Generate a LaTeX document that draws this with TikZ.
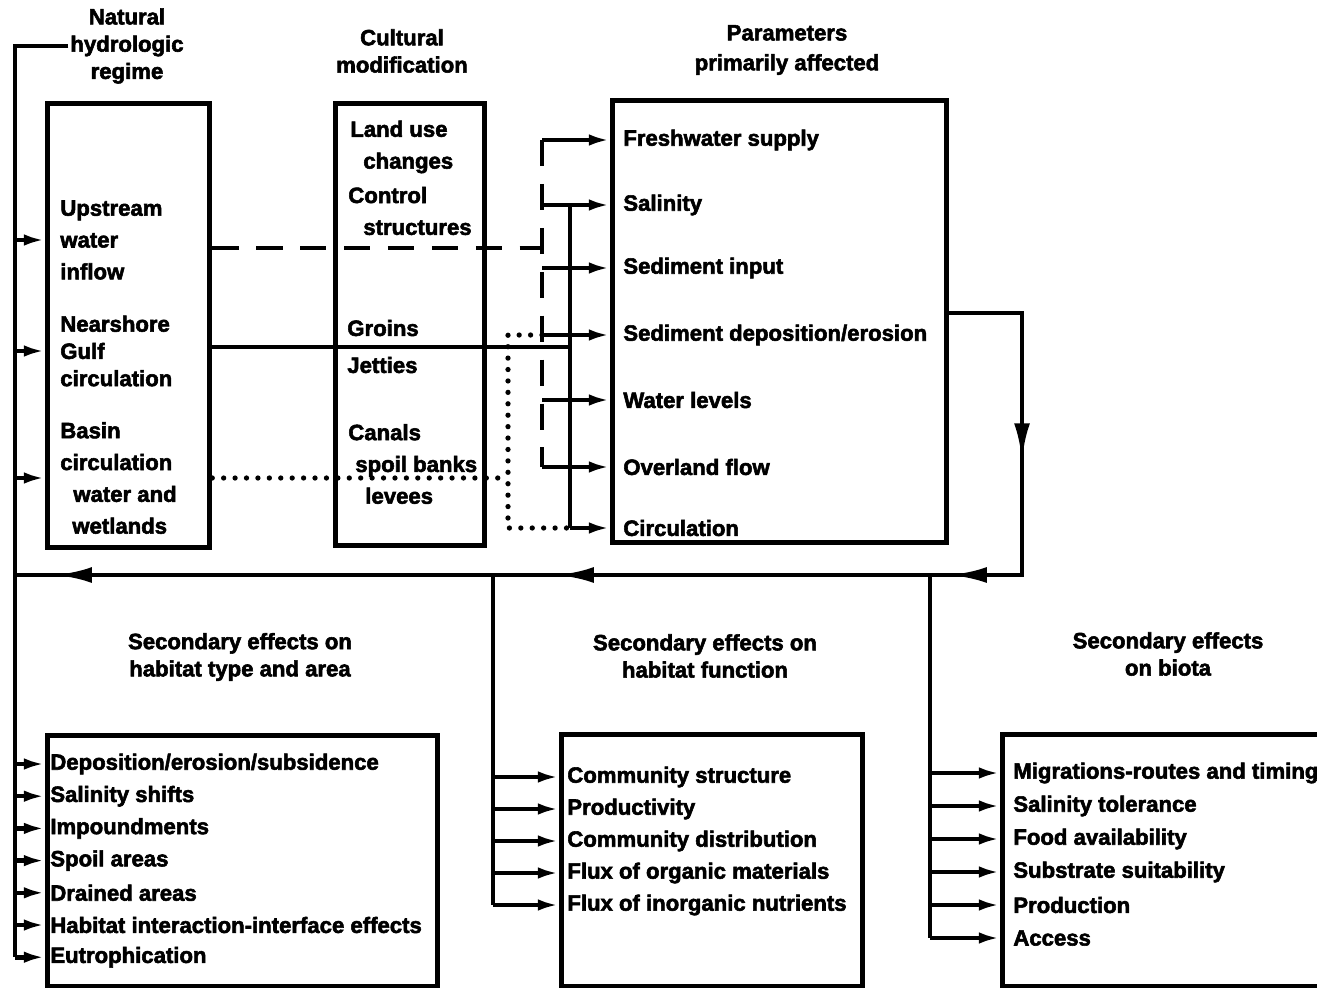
\documentclass[tikz,border=0pt]{standalone}
\usepackage{fontspec}
\setmainfont{Liberation Sans}[BoldFeatures={FakeBold=2.5}]
\usetikzlibrary{arrows.meta, decorations.markings}

\begin{document}
\begin{tikzpicture}[x=0.02cm, y=-0.02cm,
    every node/.style={font=\fontsize{12.6}{15.5}\selectfont\bfseries, inner sep=0pt},
    tall/.style={font=\fontsize{12.6}{18.1}\selectfont\bfseries},
    box/.style={draw, line width=3pt, anchor=north west},
    item/.style={anchor=west, align=left},
    heading/.style={align=center, inner sep=1pt},
    wire/.style={line width=2.6pt},
    flowarrow/.style={wire, -{Latex[length=12pt,width=6.5pt]}},
    dashwire/.style={wire, dash pattern=on 15pt off 10pt},
    dotwire/.style={line width=3pt, line cap=round, dash pattern=on 0pt off 6.5pt},
    loopwire/.style={wire, postaction={decorate}, decoration={markings,
        mark=at position 4.4cm with {\arrow{Latex[length=21pt,width=9pt]}},
        mark=at position 8.14cm with {\arrow{Latex[length=21pt,width=9pt]}},
        mark=at position 16cm with {\arrow{Latex[length=21pt,width=9pt]}},
        mark=at position 26.04cm with {\arrow{Latex[length=21pt,width=9pt]}}}}]
    \useasboundingbox (0,0) rectangle (1317,987);

    % Headings
    \node[heading] (natural) at (127,46) {Natural\\hydrologic\\regime};
    \node[heading] (cultural) at (402,51) {Cultural\\modification};
    \node[heading] (params) at (787,50) {Parameters\\[1.5pt]primarily affected};
    \node[heading] (habtype) at (240,657) {Secondary effects on\\habitat type and area};
    \node[heading] (habfunc) at (705,656) {Secondary effects on\\habitat function};
    \node[heading] (biota) at (1168,654) {Secondary effects\\on biota};

    % Upper boxes
    \node[box, minimum width=3.24cm, minimum height=8.88cm] (boxA) at (45,101) {};
    \node[box, minimum width=2.98cm, minimum height=8.84cm] (boxB) at (333,101) {};
    \node[box, minimum width=6.68cm, minimum height=8.84cm] (boxC) at (610,98) {};

    \node[item, tall] (upstream) at (60,240) {Upstream\\water\\inflow};
    \node[item] (nearshore) at (60,351) {Nearshore\\Gulf\\circulation};
    \node[item, tall] (basin) at (60,478) {Basin\\circulation\\\hspace*{0.26cm}water and\\\hspace*{0.24cm}wetlands};

    \node[item, tall] (landuse) at (350,147) {Land use\\\hspace*{0.26cm}changes};
    \node[item, tall] (control) at (348,211) {Control\\\hspace*{0.3cm}structures};
    \node[item] (groins) at (347,328) {Groins};
    \node[item] (jetties) at (347,365) {Jetties};
    \node[item, tall] (canals) at (348,464) {Canals\\\hspace*{0.14cm}spoil banks\\\hspace*{0.34cm}levees};

    \node[item] (fresh) at (623,140) {Freshwater supply};
    \node[item] (salin) at (623,205) {Salinity};
    \node[item] (sedin) at (623,268) {Sediment input};
    \node[item] (seddep) at (623,335) {Sediment deposition/erosion};
    \node[item] (wlev) at (623,400) {Water levels};
    \node[item] (over) at (623,467) {Overland flow};
    \node[item] (circ) at (623,528) {Circulation};

    % Lower boxes
    \node[box, minimum width=7.8cm, minimum height=5.02cm] (boxD) at (45,733) {};
    \node[box, minimum width=6.02cm, minimum height=5.04cm] (boxE) at (559,732) {};
    \node[box, minimum width=6.8cm, minimum height=5.04cm] (boxF) at (1000,732) {};

    \foreach \txt [count=\i] in {Deposition/erosion/subsidence, Salinity shifts, Impoundments, Spoil areas, Drained areas, Habitat interaction-interface effects, Eutrophication}
        \node[item] (d\i) at (50, {764+32.2*(\i-1)}) {\txt};
    \foreach \txt [count=\i] in {Community structure, Productivity, Community distribution, Flux of organic materials, Flux of inorganic nutrients}
        \node[item] (e\i) at (567, {777+32*(\i-1)}) {\txt};
    \foreach \txt [count=\i] in {Migrations-routes and timing, Salinity tolerance, Food availability, Substrate suitability, Production, Access}
        \node[item] (f\i) at (1013, {773+33*(\i-1)}) {\txt};

    % Bus lines
    \coordinate (wbus) at (15,0);
    \coordinate (dashjoin) at (542,248);
    \coordinate (soljoin) at (570,347);
    \coordinate (dotjoin) at (508,478);
    \coordinate (loopturn) at (1022,313);
    \coordinate (loopcorner) at (1022,575);
    \coordinate (ebus) at (493,575);
    \coordinate (fbus) at (930,575);

    % Natural regime into first box
    \draw[wire] (natural.west) -| (wbus |- d7);
    \foreach \n in {upstream, nearshore, basin}
        \draw[flowarrow] (wbus |- \n) -- (boxA.west |- \n);

    % Modifications into parameters
    \draw[dashwire] (boxA.east |- dashjoin) -- (dashjoin);
    \draw[dashwire] (dashjoin |- fresh) -- (dashjoin |- over);
    \foreach \n in {fresh, salin, sedin, seddep, wlev, over}
        \draw[flowarrow] (dashjoin |- \n) -- (boxC.west |- \n);
    \draw[wire] (boxA.east |- soljoin) -- (soljoin);
    \draw[wire] (soljoin |- salin) -- (soljoin |- circ);
    \draw[flowarrow] (soljoin |- circ) -- (boxC.west |- circ);
    \draw[dotwire] (boxA.east |- dotjoin) -- (dotjoin);
    \draw[dotwire] (dashjoin |- seddep) -| (dotjoin |- circ) -- (soljoin |- circ);

    % Feedback loop
    \draw[loopwire] (boxC.east |- loopturn) -- (loopturn) -- (loopcorner) -- (wbus |- loopcorner);

    % Secondary effects
    \draw[wire] (ebus) -- (ebus |- e5);
    \draw[wire] (fbus) -- (fbus |- f6);
    \foreach \i in {1,...,7}
        \draw[flowarrow] (wbus |- d\i) -- (boxD.west |- d\i);
    \foreach \i in {1,...,5}
        \draw[flowarrow] (ebus |- e\i) -- (boxE.west |- e\i);
    \foreach \i in {1,...,6}
        \draw[flowarrow] (fbus |- f\i) -- (boxF.west |- f\i);
\end{tikzpicture}
\end{document}
